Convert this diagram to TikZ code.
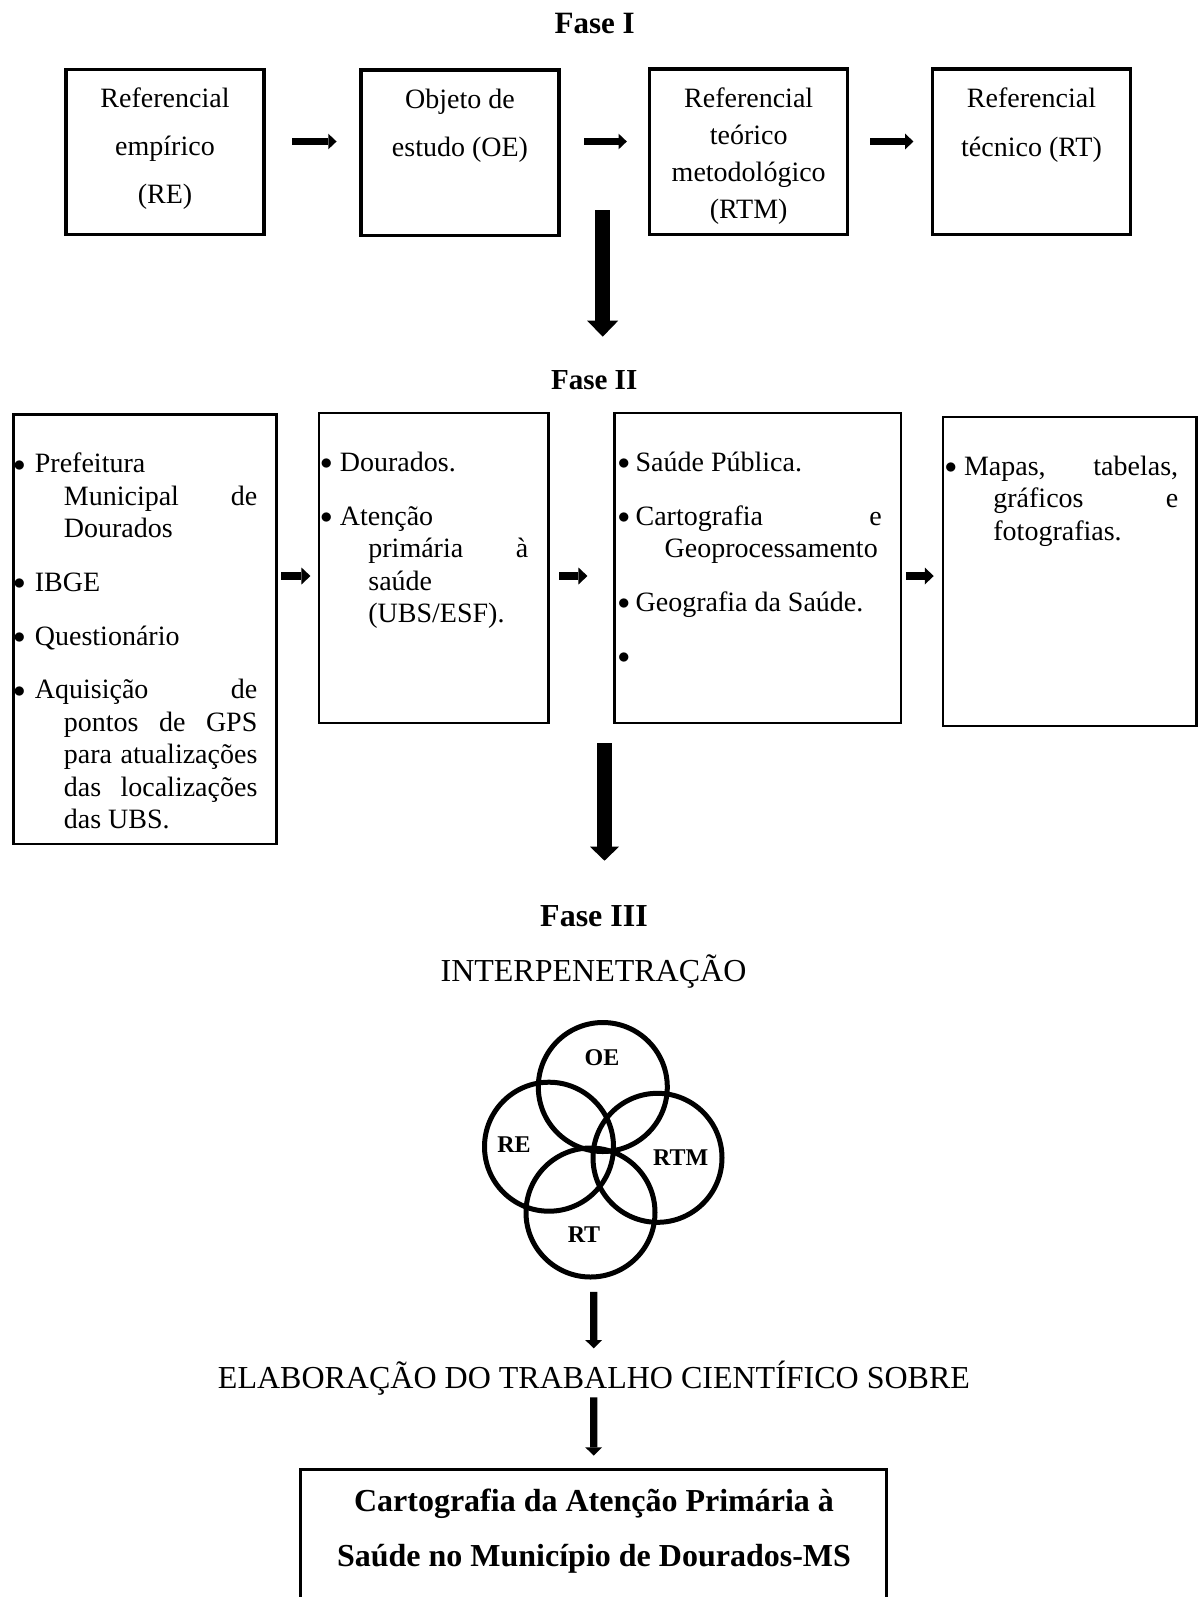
\documentclass[tikz,border=0pt]{standalone}
\usepackage{fontspec}
\usepackage{graphicx}
\setmainfont{Liberation Serif}
\usetikzlibrary{arrows.meta}
\newcommand\bdot{\raisebox{0.8pt}{\fontsize{11.5}{11.5}\selectfont$\bullet$}}
\newcommand\bulline[2]{\hbox to \hsize{\makebox[#1][l]{\bdot}#2\hfil}}
\newcommand\contline[2]{\hbox to \hsize{\hspace*{#1}#2\hfil}}
\begin{document}
\begin{tikzpicture}[x=0.5pt,y=-0.5pt,
  boxone/.style={draw, line width=1.75pt, minimum width=99pt, minimum height=82.6pt, inner sep=0pt},
  boxtwo/.style={draw, line width=1.25pt, inner sep=0pt},
  circ/.style={draw, circle, line width=2.5pt, minimum size=64.5pt, inner sep=0pt},
  txt/.style={inner sep=0pt, anchor=base},
  ptxt/.style={inner sep=0pt, anchor=base west},
  clab/.style={inner sep=0pt, anchor=base, font=\fontsize{12}{14}\selectfont\bfseries},
  harrow/.style={line width=3.85pt, -{Triangle[length=4.15pt, width=7.85pt, line width=0pt]}},
  rarrow/.style={line width=4.25pt, -{Triangle[length=4.5pt, width=8.5pt, line width=0pt]}},
  darrowA/.style={line width=7.5pt, -{Triangle[length=8pt, width=15.5pt, line width=0pt]}},
  darrowB/.style={line width=7.2pt, -{Triangle[length=7pt, width=14.5pt, line width=0pt]}},
  larrow/.style={line width=3.65pt, -{Triangle[length=4.15pt, width=8.5pt, line width=0pt]}}
]
\useasboundingbox (0,0) rectangle (1200,1597);
\fill[white] (0,0) rectangle (1200,1597);
\clip (0,0) rectangle (1200,1597);

% ---------- Fase I ----------
\node[txt, font=\fontsize{15.5}{18}\selectfont\bfseries] (f1) at (594.7,33.3) {Fase I};

\node[boxone] (re) at (165,152) {};
\node[boxone] (oe) at (460,152.8) {};
\node[boxone] (rtm) at (748.7,151.7) {};
\node[boxone] (rt) at (1031.5,151.7) {};

\node[txt] (reT) at (165,107) {\parbox[t]{95pt}{\fontsize{14}{24}\selectfont\centering Referencial\\empírico\\(RE)}};
\node[txt] (oeT) at (460,108) {\parbox[t]{95pt}{\fontsize{14}{24.3}\selectfont\centering Objeto de\\estudo (OE)}};
\node[txt] (rtmT) at (748.7,107) {\parbox[t]{95pt}{\fontsize{14}{18.5}\selectfont\centering Referencial\\teórico\\metodológico\\(RTM)}};
\node[txt] (rtT) at (1031.5,107) {\parbox[t]{95pt}{\fontsize{14}{24.5}\selectfont\centering Referencial\\técnico (RT)}};

\draw[harrow] ([shift={(26.7,-10.5)}]re.east) -- ([shift={(-22.7,-11.3)}]oe.west);
\draw[harrow] ([shift={(23.7,-11.3)}]oe.east) -- ([shift={(-21.1,-10.2)}]rtm.west);
\draw[harrow] ([shift={(20.7,-10.2)}]rtm.east) -- ([shift={(-17.3,-10.2)}]rt.west);

\coordinate (d1a) at (602.7,210);
\coordinate (d1b) at (602.7,336.7);
\draw[darrowA] (d1a) -- (d1b);

% ---------- Fase II ----------
\node[txt, font=\fontsize{14.5}{17}\selectfont\bfseries] (f2) at (594.2,389.7) {Fase II};

\node[boxtwo, minimum width=131.4pt, minimum height=214.6pt] (ba) at (144.9,629.2) {};
\node[boxtwo, minimum width=114.8pt, minimum height=154.9pt] (bb) at (433.8,567.9) {};
\node[boxtwo, minimum width=143.2pt, minimum height=154.9pt] (bc) at (757.8,567.9) {};
\node[boxtwo, minimum width=126.7pt, minimum height=154.5pt] (bd) at (1069.8,571.5) {};

\node[ptxt] (ta) at (13,472.7) {\parbox[t]{122pt}{\fontsize{14}{16.25}\selectfont
\bulline{10.75pt}{Prefeitura}
\contline{25.25pt}{Municipal\hfill de}
\contline{25.25pt}{Dourados}
\vskip10.6pt
\bulline{10.75pt}{IBGE}
\vskip10.6pt
\bulline{10.75pt}{Questionário}
\vskip10.6pt
\bulline{10.75pt}{Aquisição\hfill de}
\contline{25.25pt}{pontos\hfill de\hfill GPS}
\contline{25.25pt}{para\hfill atualizações}
\contline{25.25pt}{das\hfill localizações}
\contline{25.25pt}{das UBS.}}};

\node[ptxt] (tb) at (320,471.5) {\parbox[t]{104pt}{\fontsize{14}{16.25}\selectfont
\bulline{9.75pt}{Dourados.}
\vskip10.5pt
\bulline{9.75pt}{Atenção}
\contline{24pt}{primária\hfill à}
\contline{24pt}{saúde}
\contline{24pt}{(UBS/ESF).}}};

\node[ptxt] (tc) at (617.5,471.5) {\parbox[t]{131.9pt}{\fontsize{14}{16.25}\selectfont
\bulline{8.85pt}{Saúde Pública.}
\vskip10.6pt
\bulline{8.85pt}{Cartografia\hfill e}
\contline{23.4pt}{Geoprocessamento}
\vskip10.6pt
\bulline{8.85pt}{Geografia da Saúde.}
\vskip10.6pt
\bulline{8.85pt}{}}};

\node[ptxt] (td) at (944.5,475.3) {\parbox[t]{116.65pt}{\fontsize{14}{16.25}\selectfont
\bulline{9.55pt}{Mapas,\hfill tabelas,}
\contline{24.25pt}{gráficos\hfill e}
\contline{24.25pt}{fotografias.}}};

\draw[rarrow] ([shift={(3.7,-53.2)}]ba.east) -- ([shift={(-7.3,8.1)}]bb.west);
\draw[rarrow] ([shift={(9.6,8.1)}]bb.east) -- ([shift={(-25.9,8.1)}]bc.west);
\draw[rarrow] ([shift={(3.5,8.1)}]bc.east) -- ([shift={(-8.1,4.5)}]bd.west);

\coordinate (d2a) at (604.5,743.3);
\coordinate (d2b) at (604.5,860.7);
\draw[darrowB] (d2a) -- (d2b);

% ---------- Fase III ----------
\node[txt, font=\fontsize{16}{19}\selectfont\bfseries] (f3) at (594,926) {Fase III};
\node[txt, font=\fontsize{16}{19}\selectfont] (inter) at (593.5,981) {INTERPENETRAÇÃO};

\node[circ] (cOE) at (602.8,1087) {};
\node[circ] (cRE) at (549,1146.7) {};
\node[circ] (cRTM) at (657.5,1157.8) {};
\node[circ] (cRT) at (590.5,1212.5) {};
\node[clab] (lOE) at (602,1065) {OE};
\node[clab] (lRE) at (514,1152.7) {RE};
\node[clab] (lRTM) at (680.8,1165) {RTM};
\node[clab] (lRT) at (584,1242) {RT};

\node[txt, font=\fontsize{16}{19}\selectfont] (elab) at (594,1388) {ELABORAÇÃO DO TRABALHO CIENTÍFICO SOBRE};

\draw[larrow] ([shift={(3.2,12.3)}]cRT.south) -- ([shift={(-0.3,-39.7)}]elab.base);

\node[boxtwo, minimum width=293pt, minimum height=85.3pt] (final) at (593.7,1554.7) {};
\node[txt] (finalT) at (594,1511.3) {\parbox[t]{290pt}{\fontsize{16}{27.5}\selectfont\bfseries\centering Cartografia da Atenção Primária à\\Saúde no Município de Dourados-MS}};

\draw[larrow] ([shift={(-0.3,9.3)}]elab.base) -- ([shift={(0,-12.6)}]final.north);
\end{tikzpicture}
\end{document}
